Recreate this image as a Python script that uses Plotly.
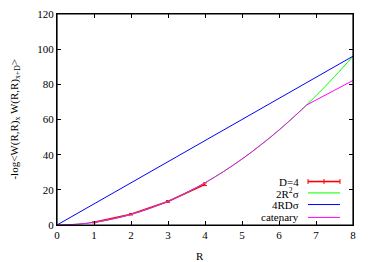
import plotly.graph_objects as go

# D=4 measured data
d4_R = [1, 2, 3, 4]
d4_val = [1.5, 6.1, 13.4, 23.2]
d4_err = [0.3, 0.4, 0.5, 0.8]

# 2R^2 sigma
quad_R = [0, 0.5, 1, 1.5, 2, 2.5, 3, 3.5, 4, 4.5, 5, 5.5, 6, 6.5, 7, 7.5, 8]
quad_val = [0, 0.4, 1.5, 3.4, 6, 9.4, 13.5, 18.4, 24, 30.4, 37.5, 45.4, 54, 63.4, 73.5, 84.4, 96]

# 4RD sigma
lin_R = [0, 8]
lin_val = [0, 96]

# catenary
cat_R = [0, 0.5, 1, 1.5, 2, 2.5, 3, 3.5, 4, 4.5, 5, 5.5, 6, 6.5, 6.75, 7.0, 7.5, 8]
cat_val = [0, 0.4, 1.5, 3.4, 6, 9.4, 13.5, 18.4, 24, 30.4, 37.5, 45.4, 54, 63.4, 68.3, 71.0, 76.6, 82.2]

legend_labels = ["D=4", "2R<sup>2</sup>σ", "4RDσ", "catenary"]
colors = ["#ff0000", "#00ff00", "#0000ff", "#ff00ff"]

fig = go.Figure()
fig.add_trace(go.Scatter(x=d4_R, y=d4_val, mode="lines",
                         line=dict(color=colors[0], width=1.6),
                         error_y=dict(type="data", array=d4_err, color=colors[0], thickness=1, width=2),
                         showlegend=False))
fig.add_trace(go.Scatter(x=quad_R, y=quad_val, mode="lines",
                         line=dict(color=colors[1], width=1, shape="spline"), showlegend=False))
fig.add_trace(go.Scatter(x=lin_R, y=lin_val, mode="lines",
                         line=dict(color=colors[2], width=1), showlegend=False))
fig.add_trace(go.Scatter(x=cat_R[:15], y=cat_val[:15], mode="lines",
                         line=dict(color=colors[3], width=1, shape="spline"), showlegend=False))
fig.add_trace(go.Scatter(x=cat_R[14:], y=cat_val[14:], mode="lines",
                         line=dict(color=colors[3], width=1), showlegend=False))

font = dict(family="Liberation Serif", size=11, color="black")

# manual gnuplot-style legend
leg_y = [0.206, 0.152, 0.097, 0.036]
for lab, col, yy in zip(legend_labels, colors, leg_y):
    fig.add_annotation(x=0.826, y=yy, xref="paper", yref="paper", text=lab,
                       showarrow=False, xanchor="right", yanchor="middle", font=font)
    fig.add_shape(type="line", xref="paper", yref="paper", x0=0.848, x1=0.956, y0=yy, y1=yy,
                  line=dict(color=col, width=1.6 if col == "#ff0000" else 1))
# error-bar ticks on D=4 legend sample
for xx in [0.848, 0.902, 0.956]:
    fig.add_shape(type="line", xref="paper", yref="paper", x0=xx, x1=xx,
                  y0=leg_y[0] - 0.012, y1=leg_y[0] + 0.012, line=dict(color=colors[0], width=1))

# plot frame
fig.add_shape(type="rect", xref="paper", yref="paper", x0=0, x1=1, y0=0, y1=1,
              line=dict(color="black", width=1.2), layer="above")

# axis titles
fig.add_annotation(x=-0.145, y=0.5, xref="paper", yref="paper",
                   text="-log&lt;W(R,R)<sub>x</sub> W(R,R)<sub>x+D</sub>&gt;",
                   textangle=-90, showarrow=False, xanchor="center", yanchor="middle", font=font)
fig.add_annotation(x=0.483, y=-0.147, xref="paper", yref="paper", text="R",
                   showarrow=False, xanchor="center", yanchor="middle", font=font)

fig.update_layout(
    width=374, height=262,
    margin=dict(l=57, r=21, t=14, b=37),
    paper_bgcolor="white", plot_bgcolor="white",
    font=font,
    xaxis=dict(range=[0, 8], dtick=1, ticks="inside", ticklen=4, tickcolor="black",
               showline=True, linecolor="black", linewidth=1, mirror="ticks",
               showgrid=False, zeroline=False, automargin=False, tickfont=font),
    yaxis=dict(range=[0, 120], dtick=20, ticks="inside", ticklen=4, tickcolor="black",
               showline=True, linecolor="black", linewidth=1, mirror="ticks",
               showgrid=False, zeroline=False, automargin=False, tickfont=font),
)

fig.write_html("out.html", config={"displayModeBar": False},
               post_script="document.body.style.margin='0';document.body.style.padding='0';")
